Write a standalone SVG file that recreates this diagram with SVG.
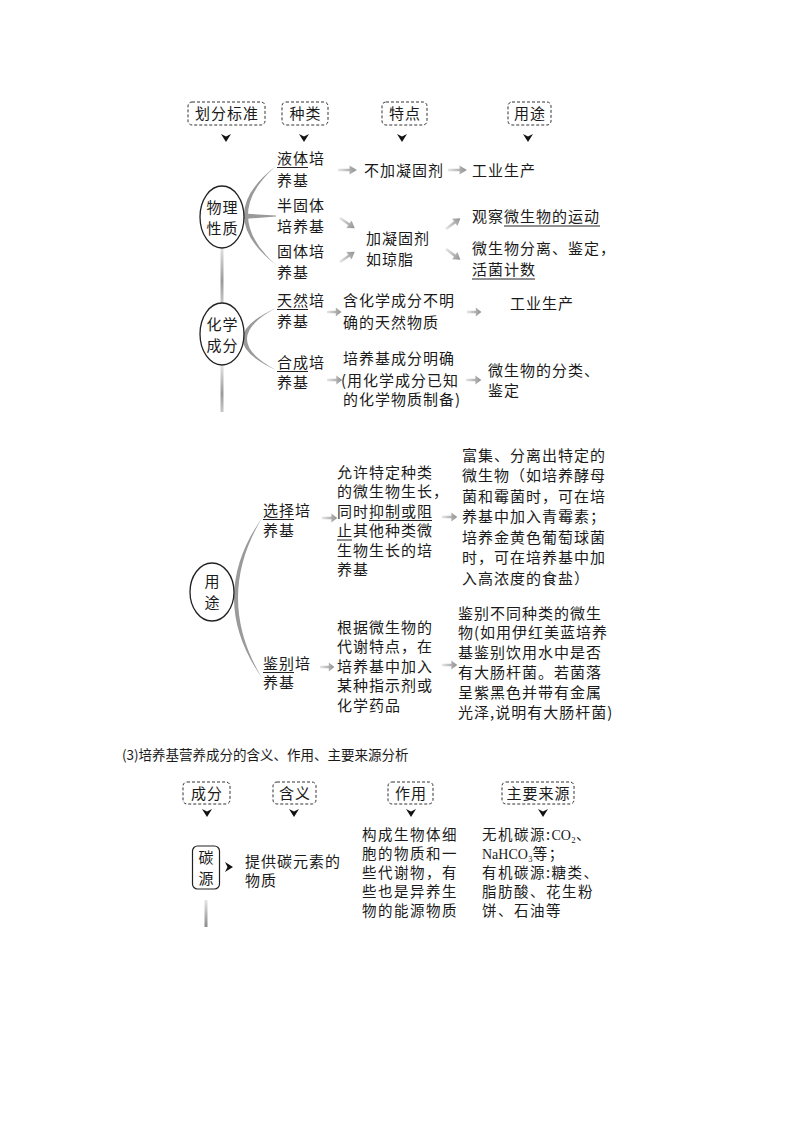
<svg xmlns="http://www.w3.org/2000/svg" xmlns:xlink="http://www.w3.org/1999/xlink" width="800" height="1132" viewBox="0 0 800 1132">
<defs>
<style>
.t{font-family:"Noto Sans CJK SC","Noto Sans CJK JP",sans-serif;font-size:15px;letter-spacing:1px;fill:#1a1a1a}
.s{font-size:14.5px;letter-spacing:1.5px}
.m{text-anchor:middle}
.lat{font-family:"Liberation Serif","DejaVu Serif",serif;font-size:14px;letter-spacing:0}
.ti{font-family:"Noto Sans CJK SC",sans-serif;font-size:13.5px;fill:#1a1a1a}
.ul{stroke:#222;stroke-width:1}
.db{fill:#fff;stroke:#333;stroke-width:1;stroke-dasharray:3 2}
.el{fill:#fff;stroke:#222;stroke-width:1.3}
.br{fill:#9a9a9a}
</style>
<linearGradient id="ag" x1="0" y1="0" x2="1" y2="0">
<stop offset="0" stop-color="#e6e6e6"/>
<stop offset="1" stop-color="#8f8f8f"/>
</linearGradient>
<linearGradient id="vg" x1="0" y1="0" x2="0" y2="1">
<stop offset="0" stop-color="#e2e2e2"/>
<stop offset="0.6" stop-color="#9a9a9a"/>
<stop offset="1" stop-color="#c8c8c8"/>
</linearGradient>
<linearGradient id="vg2" x1="0" y1="0" x2="0" y2="1">
<stop offset="0" stop-color="#e6e6e6"/>
<stop offset="1" stop-color="#8a8a8a"/>
</linearGradient>
<path id="arr" d="M0,-1.3 H11 V-4.5 L18,0 L11,4.5 V1.3 H0 Z" fill="url(#ag)"/>
<path id="dn" d="M-5,-4 L0,4 L5,-4 L0,-1.5 Z" fill="#111"/>
<path id="rt" d="M-4,-5 L4,0 L-4,5 L-1.5,0 Z" fill="#111"/>
</defs>
<rect width="800" height="1132" fill="#fff"/>

<!-- header row 1 -->
<g id="h-standard"><rect class="db" x="188" y="102" width="77" height="23" rx="4"/><text class="t m" x="227" y="119">划分标准</text></g>
<g id="h-kind"><rect class="db" x="282" y="102" width="46" height="23" rx="4"/><text class="t m" x="305.5" y="119">种类</text></g>
<g id="h-feature"><rect class="db" x="382" y="102" width="45" height="23" rx="4"/><text class="t m" x="405" y="119">特点</text></g>
<g id="h-use"><rect class="db" x="508" y="102" width="43" height="23" rx="4"/><text class="t m" x="530" y="119">用途</text></g>

<!-- connectors -->
<g id="connectors">
<use href="#dn" x="226" y="138"/>
<use href="#dn" x="304" y="138"/>
<use href="#dn" x="402" y="138"/>
<use href="#dn" x="528" y="138"/>
<path class="br" d="M276,166 Q212,215 276,265 Q220,215 276,166 Z"/>
<path class="br" d="M243,213.5 L276,215.6 L276,216.6 L243,219 Z"/>
<rect x="220.5" y="248" width="3" height="55" fill="url(#vg)"/>
<path class="br" d="M276,308 Q209,339 276,370 Q218,339 276,308 Z"/>
<rect x="220.5" y="366" width="3" height="46" fill="url(#vg)"/>
<path class="br" d="M262,518 Q206,598 262,678 Q214,598 262,518 Z"/>
<use href="#arr" transform="translate(338,170) scale(1.05 1)"/>
<use href="#arr" transform="translate(448,170) scale(1.05 1)"/>
<use href="#arr" transform="translate(340,218) rotate(35)"/>
<use href="#arr" transform="translate(340,262) rotate(-35)"/>
<use href="#arr" transform="translate(446,229) rotate(-37)"/>
<use href="#arr" transform="translate(446,249) rotate(37)"/>
<use href="#arr" transform="translate(327,312) scale(0.8 1)"/>
<use href="#arr" transform="translate(467,312) scale(0.8 1)"/>
<use href="#arr" transform="translate(327,380) scale(0.85 1)"/>
<use href="#arr" transform="translate(466,380) scale(0.85 1)"/>
<use href="#arr" transform="translate(322,518) scale(0.85 1)"/>
<use href="#arr" transform="translate(442,517) scale(0.85 1)"/>
<use href="#arr" transform="translate(320,667) scale(0.8 1)"/>
<use href="#arr" transform="translate(442,665) scale(0.85 1)"/>
<use href="#dn" x="207" y="813"/>
<use href="#dn" x="294" y="813"/>
<use href="#dn" x="411" y="813"/>
<use href="#dn" x="543" y="813"/>
<use href="#rt" x="229" y="867"/>
<rect x="204.5" y="900" width="3" height="27" fill="url(#vg2)"/>
</g>

<!-- physical property -->
<g id="physical"><ellipse class="el" cx="222" cy="217" rx="22" ry="31"/><text class="t m" x="222.5" y="213">物理<tspan x="222.5" dy="21">性质</tspan></text></g>
<g id="liquid"><text class="t" x="277" y="163.5">液体培<tspan x="277" dy="22">养基</tspan></text><line class="ul" x1="277" y1="167.5" x2="308" y2="167.5"/></g>
<g id="no-agent"><text class="t" x="364" y="175.5">不加凝固剂</text></g>
<g id="industry1"><text class="t" x="472" y="175.5">工业生产</text></g>
<g id="semisolid"><text class="t" x="277" y="210.5">半固体<tspan x="277" dy="21">培养基</tspan></text></g>
<g id="solid"><text class="t" x="277" y="256.5">固体培<tspan x="277" dy="21">养基</tspan></text></g>
<g id="agar"><text class="t" x="366" y="244">加凝固剂<tspan x="366" dy="21">如琼脂</tspan></text></g>
<g id="observe"><text class="t" x="472" y="221.5">观察微生物的运动</text><line class="ul" x1="504" y1="226" x2="600" y2="226"/></g>
<g id="isolate"><text class="t" x="472" y="253.5">微生物分离、鉴定，<tspan x="472" dy="21">活菌计数</tspan></text><line class="ul" x1="472" y1="279" x2="535" y2="279"/></g>

<!-- chemical composition -->
<g id="chemical"><ellipse class="el" cx="222" cy="334" rx="22" ry="31"/><text class="t m" x="222.5" y="329.5">化学<tspan x="222.5" dy="21.5">成分</tspan></text></g>
<g id="natural"><text class="t" x="277" y="305.5">天然培<tspan x="277" dy="21">养基</tspan></text><line class="ul" x1="277" y1="309.5" x2="308" y2="309.5"/></g>
<g id="natural-desc"><text class="t" x="343" y="305.5">含化学成分不明<tspan x="343" dy="22">确的天然物质</tspan></text></g>
<g id="industry2"><text class="t" x="510" y="308.5">工业生产</text></g>
<g id="synthetic"><text class="t" x="277" y="367.5">合成培<tspan x="277" dy="20">养基</tspan></text><line class="ul" x1="277" y1="371.5" x2="308" y2="371.5"/></g>
<g id="synthetic-desc"><text class="t" x="343" y="363.5">培养基成分明确<tspan x="341" dy="22">(用化学成分已知</tspan><tspan x="343" dy="19">的化学物质制备)</tspan></text></g>
<g id="classify"><text class="t" x="488" y="375.5">微生物的分类、<tspan x="488" dy="20">鉴定</tspan></text></g>

<!-- usage -->
<g id="usage"><ellipse class="el" cx="212" cy="592" rx="22" ry="29"/><text class="t m" x="212.5" y="587">用<tspan x="212.5" dy="21">途</tspan></text></g>
<g id="selective"><text class="t" x="263" y="515.5">选择培<tspan x="263" dy="20">养基</tspan></text><line class="ul" x1="263" y1="519.5" x2="294" y2="519.5"/></g>
<g id="selective-desc">
<text class="t" x="337" y="477.5">允许特定种类<tspan x="337" dy="19.5">的微生物生长，</tspan><tspan x="337" dy="19.5">同时抑制或阻</tspan><tspan x="337" dy="19.5">止其他种类微</tspan><tspan x="337" dy="19.5">生物生长的培</tspan><tspan x="337" dy="19.5">养基</tspan></text>
<line class="ul" x1="369" y1="520.5" x2="432" y2="520.5"/>
<line class="ul" x1="337" y1="540" x2="352" y2="540"/>
</g>
<g id="selective-use">
<text class="t" x="462" y="460.5">富集、分离出特定的<tspan x="462" dy="20.5">微生物（如培养酵母</tspan><tspan x="462" dy="20.5">菌和霉菌时，可在培</tspan><tspan x="462" dy="20.5">养基中加入青霉素；</tspan><tspan x="462" dy="20.5">培养金黄色葡萄球菌</tspan><tspan x="462" dy="20.5">时，可在培养基中加</tspan><tspan x="462" dy="20.5">入高浓度的食盐）</tspan></text>
</g>
<g id="differential"><text class="t" x="263" y="668.5">鉴别培<tspan x="263" dy="19.5">养基</tspan></text><line class="ul" x1="263" y1="672.5" x2="294" y2="672.5"/></g>
<g id="differential-desc">
<text class="t" x="337" y="632.5">根据微生物的<tspan x="337" dy="19.5">代谢特点，在</tspan><tspan x="337" dy="19.5">培养基中加入</tspan><tspan x="337" dy="19.5">某种指示剂或</tspan><tspan x="337" dy="19.5">化学药品</tspan></text>
</g>
<g id="differential-use">
<text class="t" x="458" y="618.5">鉴别不同种类的微生<tspan x="458" dy="19.8">物(如用伊红美蓝培养</tspan><tspan x="458" dy="19.8">基鉴别饮用水中是否</tspan><tspan x="458" dy="19.8">有大肠杆菌。若菌落</tspan><tspan x="458" dy="19.8">呈紫黑色并带有金属</tspan><tspan x="458" dy="19.8">光泽,说明有大肠杆菌)</tspan></text>
</g>

<!-- section 3 -->
<text class="ti" x="122" y="760">(3)培养基营养成分的含义、作用、主要来源分析</text>
<g id="h-component"><rect class="db" x="183" y="782" width="47" height="22" rx="4"/><text class="t m" x="207" y="798.5">成分</text></g>
<g id="h-meaning"><rect class="db" x="273" y="782" width="43" height="22" rx="4"/><text class="t m" x="295" y="798.5">含义</text></g>
<g id="h-function"><rect class="db" x="388" y="782" width="45" height="22" rx="4"/><text class="t m" x="411" y="798.5">作用</text></g>
<g id="h-source"><rect class="db" x="502" y="782" width="72" height="22" rx="4"/><text class="t m" x="538.5" y="798.5">主要来源</text></g>
<g id="carbon"><rect x="192.5" y="846" width="27" height="43" rx="5" fill="#fff" stroke="#222" stroke-width="1.2"/><text class="t m" x="206.5" y="862.5">碳<tspan x="206.5" dy="21">源</tspan></text></g>
<g id="carbon-meaning"><text class="t" x="245" y="866.5">提供碳元素的<tspan x="245" dy="19.5">物质</tspan></text></g>
<g id="carbon-function">
<text class="t s" x="362" y="840">构成生物体细<tspan x="362" dy="19">胞的物质和一</tspan><tspan x="362" dy="19">些代谢物，有</tspan><tspan x="362" dy="19">些也是异养生</tspan><tspan x="362" dy="19">物的能源物质</tspan></text>
</g>
<g id="carbon-source">
<text class="t s" x="482" y="840">无机碳源:<tspan class="lat">CO₂</tspan>、<tspan x="482" dy="19" class="lat">NaHCO₃</tspan>等；<tspan x="482" dy="19">有机碳源:糖类、</tspan><tspan x="482" dy="19">脂肪酸、花生粉</tspan><tspan x="482" dy="19">饼、石油等</tspan></text>
</g>
</svg>
